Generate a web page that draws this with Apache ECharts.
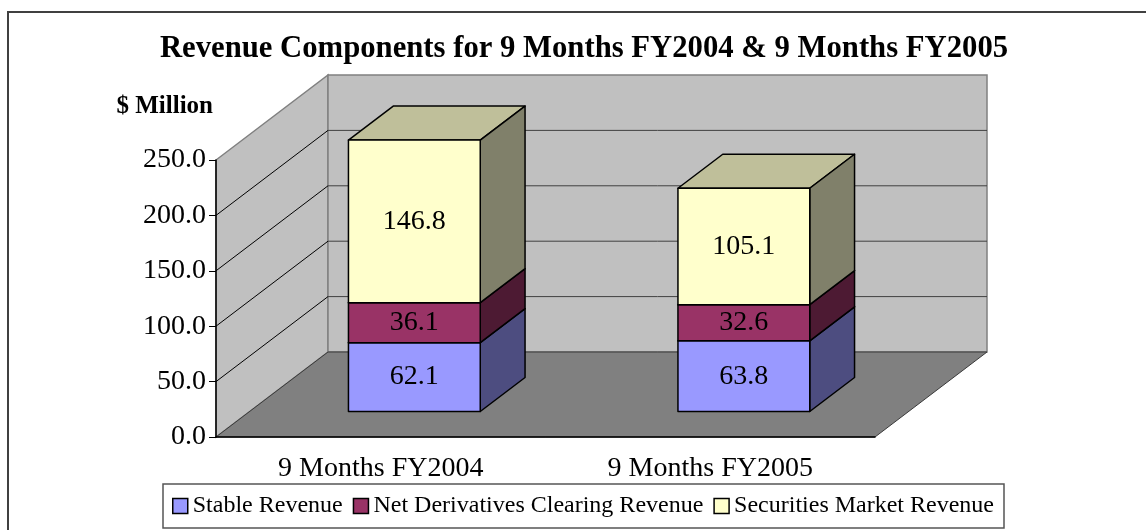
<!DOCTYPE html>
<html>
<head>
<meta charset="utf-8">
<script src="https://cdn.jsdelivr.net/npm/echarts@6/dist/echarts.min.js"></script>
<style>
html, body { margin: 0; padding: 0; background: #fff; }
#chart { width: 1146px; height: 530px; }
</style>
</head>
<body>
<div id="chart"></div>
<script>
var categories = ['9 Months FY2004', '9 Months FY2005'];
var stableRevenue = [62.1, 63.8];
var netDerivatives = [36.1, 32.6];
var securitiesMarket = [146.8, 105.1];
var seriesNames = ['Stable Revenue', 'Net Derivatives Clearing Revenue', 'Securities Market Revenue'];
var yMin = 0, yMax = 250, yStep = 50;

// front / side / top face colours per segment
var frontColors = ['#9999FF', '#993366', '#FFFFCC'];
var sideColors = ['#4D4D80', '#4D1A33', '#80806A'];
var topColors = ['#7A7ACC', '#7A2952', '#BFBF9A'];

// oblique depth of the floor, bar sits between 0.3 and 0.7 of it
var DEPTH_X = 112, DEPTH_Y = -85;
var BAR_FRONT = 0.3, BAR_BACK = 0.7, BAR_WIDTH = 0.4;
var FONT = '"Liberation Serif", "Times New Roman", serif';

var myChart = echarts.init(document.getElementById('chart'));

// walls, floor and gridlines
function renderWalls(params, api) {
    var cs = params.coordSys;
    var x0 = cs.x, x1 = cs.x + cs.width, yt = cs.y, yb = cs.y + cs.height;
    var children = [];
    children.push({
        type: 'polygon',
        shape: { points: [[x0, yb], [x0, yt], [x0 + DEPTH_X, yt + DEPTH_Y], [x0 + DEPTH_X, yb + DEPTH_Y]] },
        style: { fill: '#C0C0C0', stroke: '#808080', lineWidth: 1.5 }
    });
    children.push({
        type: 'rect',
        shape: { x: x0 + DEPTH_X, y: yt + DEPTH_Y, width: cs.width, height: cs.height },
        style: { fill: '#C0C0C0', stroke: '#808080', lineWidth: 1.5 }
    });
    children.push({
        type: 'polygon',
        shape: { points: [[x0, yb], [x1, yb], [x1 + DEPTH_X, yb + DEPTH_Y], [x0 + DEPTH_X, yb + DEPTH_Y]] },
        style: { fill: '#808080', stroke: '#3A3A3A', lineWidth: 1 }
    });
    for (var v = yMin + yStep; v < yMax; v += yStep) {
        var y = api.coord([0, v])[1];
        children.push({
            type: 'line',
            shape: { x1: x0, y1: y, x2: x0 + DEPTH_X, y2: y + DEPTH_Y },
            style: { stroke: '#000', lineWidth: 1 }
        });
        children.push({
            type: 'line',
            shape: { x1: x0 + DEPTH_X, y1: y + DEPTH_Y, x2: x1 + DEPTH_X, y2: y + DEPTH_Y },
            style: { stroke: '#404040', lineWidth: 1 }
        });
    }
    return { type: 'group', children: children };
}

// one stacked segment drawn as a box
function makeBarRenderer(k) {
    return function (params, api) {
        var cat = api.value(0), base = api.value(1), val = api.value(2);
        var band = api.size([1, 0])[0];
        var w = band * BAR_WIDTH;
        var p0 = api.coord([cat, base]);
        var p1 = api.coord([cat, base + val]);
        var xl = p0[0] - w / 2 + DEPTH_X * BAR_FRONT, xr = xl + w;
        var yBot = p0[1] + DEPTH_Y * BAR_FRONT, yTop = p1[1] + DEPTH_Y * BAR_FRONT;
        var ddx = DEPTH_X * (BAR_BACK - BAR_FRONT), ddy = DEPTH_Y * (BAR_BACK - BAR_FRONT);
        var edge = { stroke: '#000', lineWidth: 1.5, lineJoin: 'round' };
        return {
            type: 'group',
            children: [
                {
                    type: 'polygon',
                    shape: { points: [[xl, yTop], [xr, yTop], [xr + ddx, yTop + ddy], [xl + ddx, yTop + ddy]] },
                    style: Object.assign({ fill: topColors[k] }, edge)
                },
                {
                    type: 'polygon',
                    shape: { points: [[xr, yTop], [xr, yBot], [xr + ddx, yBot + ddy], [xr + ddx, yTop + ddy]] },
                    style: Object.assign({ fill: sideColors[k] }, edge)
                },
                {
                    type: 'rect',
                    shape: { x: xl, y: yTop, width: w, height: yBot - yTop },
                    style: Object.assign({ fill: frontColors[k] }, edge)
                },
                {
                    type: 'text',
                    x: (xl + xr) / 2,
                    y: (yTop + yBot) / 2,
                    style: {
                        text: val.toFixed(1), fill: '#000', font: '28px ' + FONT,
                        align: 'center', verticalAlign: 'middle'
                    }
                }
            ]
        };
    };
}

var stacks = [stableRevenue, netDerivatives, securitiesMarket];
var bases = [0, 0];
var series = [{
    name: 'walls',
    type: 'custom',
    z: -1,
    silent: true,
    renderItem: renderWalls,
    data: [[0, 0, 0]]
}];
for (var k = 0; k < stacks.length; k++) {
    var data = [];
    for (var i = 0; i < categories.length; i++) {
        data.push([i, bases[i], stacks[k][i]]);
        bases[i] += stacks[k][i];
    }
    series.push({
        name: seriesNames[k],
        type: 'custom',
        renderItem: makeBarRenderer(k),
        itemStyle: { color: frontColors[k] },
        encode: { x: 0, y: [1, 2] },
        data: data
    });
}

var option = {
    backgroundColor: '#fff',
    animation: false,
    title: {
        text: 'Revenue Components for 9 Months FY2004 & 9 Months FY2005',
        left: 579,
        top: 29,
        textAlign: 'center',
        textStyle: { fontFamily: FONT, fontSize: 30.7, fontWeight: 'bold', color: '#000' }
    },
    graphic: [{
        type: 'rect',
        shape: { x: 8, y: 12, width: 1160, height: 540 },
        style: { fill: 'none', stroke: '#404040', lineWidth: 2 },
        silent: true
    }],
    legend: {
        data: seriesNames,
        left: 163,
        top: 484,
        icon: 'rect',
        itemWidth: 15,
        itemHeight: 15,
        itemGap: 10,
        padding: [10, 10, 10, 9],
        borderColor: '#555',
        borderWidth: 1.5,
        itemStyle: { borderColor: '#000', borderWidth: 1.5 },
        textStyle: { fontFamily: FONT, fontSize: 24, lineHeight: 24, color: '#000' }
    },
    grid: { left: 216, top: 160, width: 659, height: 277 },
    xAxis: {
        type: 'category',
        data: categories,
        axisLine: { lineStyle: { color: '#000', width: 1.5 } },
        axisTick: { length: 6, lineStyle: { color: '#000' } },
        axisLabel: { fontFamily: FONT, fontSize: 28, color: '#000', margin: 18 },
        splitLine: { show: false }
    },
    yAxis: {
        type: 'value',
        min: yMin,
        max: yMax,
        interval: yStep,
        name: '$ Million',
        nameLocation: 'end',
        nameGap: 53,
        nameTextStyle: {
            fontFamily: FONT, fontSize: 25, fontWeight: 'bold', color: '#000',
            align: 'right', verticalAlign: 'middle', padding: [0, 3, 0, 0]
        },
        axisLine: { show: true, lineStyle: { color: '#000', width: 1.5 } },
        axisTick: { show: true, length: 7, lineStyle: { color: '#000' } },
        axisLabel: {
            fontFamily: FONT, fontSize: 28, color: '#000', margin: 10,
            formatter: function (v) { return v.toFixed(1); }
        },
        splitLine: { show: false }
    },
    series: series
};
myChart.setOption(option);
window.onresize = myChart.resize;
</script>
</body>
</html>
